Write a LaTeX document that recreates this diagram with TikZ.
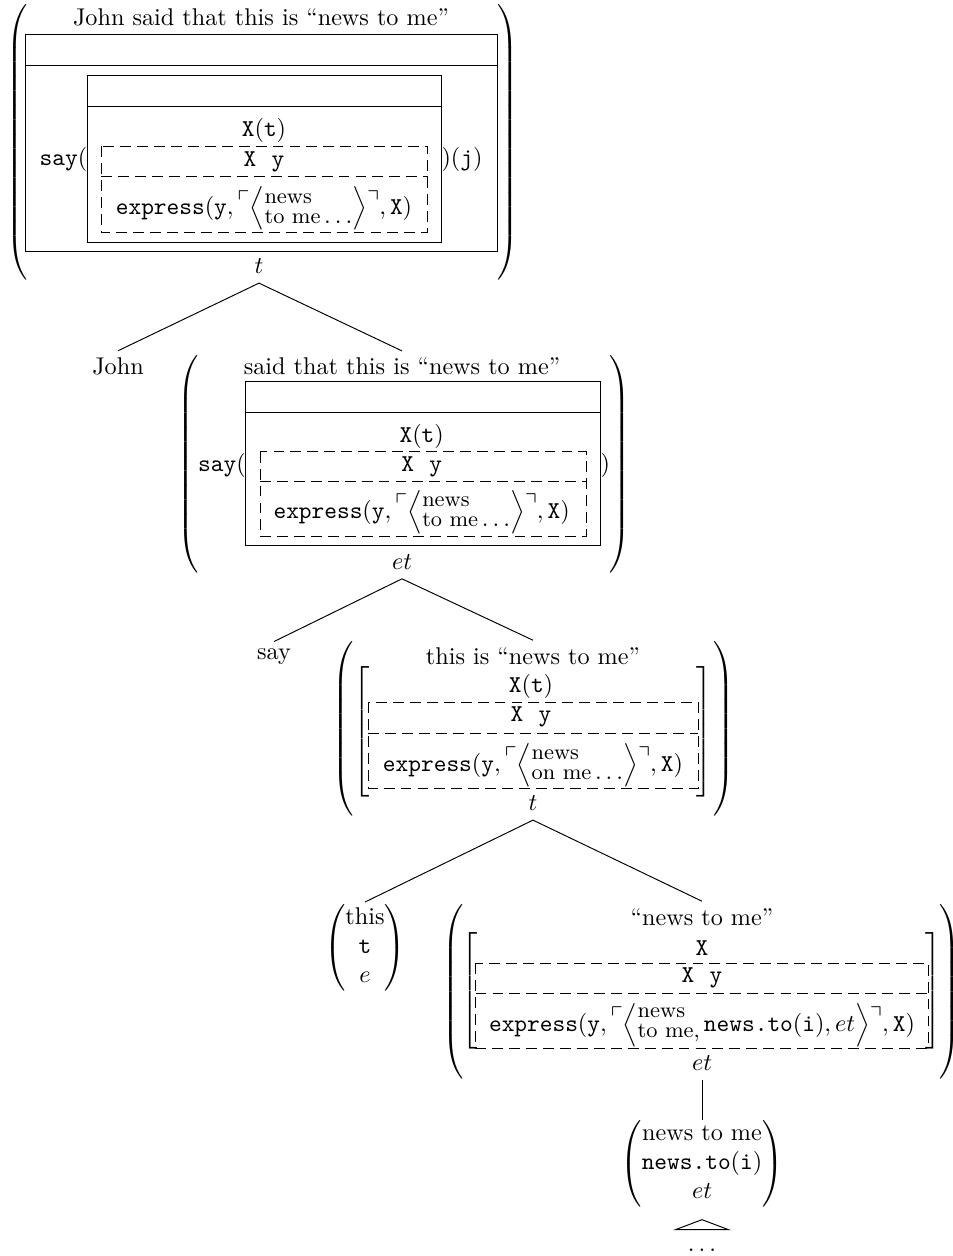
\documentclass[tikz,border=0pt]{standalone}
\usepackage{amsmath}
\usepackage{amssymb}
\newcommand\tallL[2]{{\delimiterfactor=1000 \delimitershortfall=0pt $\left#1\vcenter{\hrule height #2 width 0pt}\right.$}}
\newcommand\tallR[2]{{\delimiterfactor=1000 \delimitershortfall=0pt $\left.\vcenter{\hrule height #2 width 0pt}\right#1$}}
\newcommand\stk[2]{\vcenter{\baselineskip=8.2pt \lineskiplimit=-20pt \hbox{\small #1}\hbox{\small #2}}}
\newcommand\crn[1]{\raisebox{3pt}{$#1$}}
\newcommand\expr[1]{$\texttt{express}(\texttt{y},\crn{\ulcorner}\Bigl\langle #1\Bigr\rangle\crn{\urcorner},\texttt{X})$}
\newcommand\Xy{\texttt{X}\hspace{6.3pt}\texttt{y}}
\newcommand\more{\,{\normalsize$\ldots$}}

\begin{document}
\begin{tikzpicture}[x=0.41322pt,y=-0.41322pt,
  lbl/.style={inner sep=0pt, outer sep=3pt},
  typ/.style={inner sep=0pt, outer sep=4pt},
  delim/.style={inner sep=0pt},
  dbox/.style={dash pattern=on 4.5pt off 2.5pt}]
\useasboundingbox (0,0) rectangle (952,1256);

\node[lbl] (rootTitle) at (261,17) {John said that this is “news to me”};
\node[delim] (rootL) at (18.6,142) {\tallL({114pt}};
\node[delim] (rootR) at (507,142) {\tallR){114pt}};
\draw (25.4,34.8) rectangle (497,251.9) (25.4,65.2) -- (497,65.2);
\draw (87.2,75.4) rectangle (441.5,242.4) (87.2,106.5) -- (441.5,106.5);
\node[lbl] (rootXt) at (264,130) {$\texttt{X}(\texttt{t})$};
\draw[dbox] (101.4,146) rectangle (427.7,232.6) (101.4,176.5) -- (427.7,176.5);
\node[lbl] (rootXy) at (264,161.6) {\Xy};
\node[lbl] (rootExpr) at (264,208.5) {\expr{\stk{news}{to me\more}}};
\node[lbl, anchor=east, outer sep=0pt] (rootSay) at (87.2,159) {$\texttt{say}($};
\node[lbl, anchor=west, outer sep=0pt] (rootJ) at (441.5,159) {$)(\texttt{j})$};
\node[typ] (rootType) at (259,266) {$t$};

\node[lbl] (john) at (118,366.7) {John};

\node[lbl] (l2Title) at (402,366.7) {said that this is “news to me”};
\node[delim] (l2L) at (190,464) {\tallL({88pt}};
\node[delim] (l2R) at (619,464) {\tallR){88pt}};
\draw (245.7,381.7) rectangle (600.5,545.7) (245.7,412.3) -- (600.5,412.3);
\node[lbl] (l2Xt) at (421.7,436) {$\texttt{X}(\texttt{t})$};
\draw[dbox] (260,451.7) rectangle (586,536) (260,481) -- (586,481);
\node[lbl] (l2Xy) at (421.7,466.7) {\Xy};
\node[lbl] (l2Expr) at (421.7,512) {\expr{\stk{news}{to me\more}}};
\node[lbl, anchor=east, outer sep=0pt] (l2Say) at (245.7,465) {$\texttt{say}($};
\node[lbl, anchor=west, outer sep=0pt] (l2Close) at (600.5,465) {$)$};
\node[typ] (l2Type) at (402,561.7) {$et$};

\node[lbl] (say) at (274,656.7) {say};

\node[lbl] (l3Title) at (533,656) {this is “news to me”};
\node[delim] (l3L) at (345,729) {\tallL({71pt}};
\node[delim] (l3R) at (723,729) {\tallR){71pt}};
\node[delim] (l3BL) at (363,732) {\tallL[{49pt}};
\node[delim] (l3BR) at (703,732) {\tallR]{49pt}};
\node[lbl] (l3Xt) at (531,686) {$\texttt{X}(\texttt{t})$};
\draw[dbox] (368,702) rectangle (698,788) (368,733) -- (698,733);
\node[lbl] (l3Xy) at (531,717) {\Xy};
\node[lbl] (l3Expr) at (533,765) {\expr{\stk{news}{on me\more}}};
\node[typ] (l3Type) at (533,803) {$t$};

\node[inner sep=0pt, outer sep=1pt] (thisNode) at (365,948)
  {$\begin{pmatrix}\text{this}\\ \texttt{t}\\ e\end{pmatrix}$};

\node[lbl] (l4Title) at (702,917) {“news to me”};
\node[delim] (l4L) at (455,992) {\tallL({70pt}};
\node[delim] (l4R) at (949,992) {\tallR){70pt}};
\node[delim] (l4BL) at (471.5,991) {\tallL[{46pt}};
\node[delim] (l4BR) at (932.5,991) {\tallR]{46pt}};
\node[lbl] (l4X) at (702,947.7) {\texttt{X}};
\draw[dbox] (475.6,963) rectangle (928,1048) (475.6,993) -- (928,993);
\node[lbl] (l4Xy) at (702,978) {\Xy};
\node[lbl] (l4Expr) at (702,1025)
  {\expr{\stk{news}{to me,}\,\texttt{news.to}(\texttt{i}), et}};
\node[typ] (l4Type) at (702,1063) {$et$};

\node[inner sep=0pt, outer sep=0pt] (l5) at (702,1164)
  {$\begin{pmatrix}\text{news to me}\\ \texttt{news.to}(\texttt{i})\\ et\end{pmatrix}$};
\node[inner sep=0pt] (dots) at (702,1250) {$\ldots$};

\draw (rootType.south) -- (john.north);
\draw (rootType.south) -- (l2Title.north);
\draw (l2Type.south) -- (say.north);
\draw (l2Type.south) -- (l3Title.north);
\draw (l3Type.south) -- (thisNode.north);
\draw (l3Type.south) -- (l4Title.north);
\draw (l4Type.south) -- (l5.north);
\draw ([yshift=-5pt]l5.south) -- ++(-26.5,10) -- ++(53,0) -- cycle;
\end{tikzpicture}
\end{document}
